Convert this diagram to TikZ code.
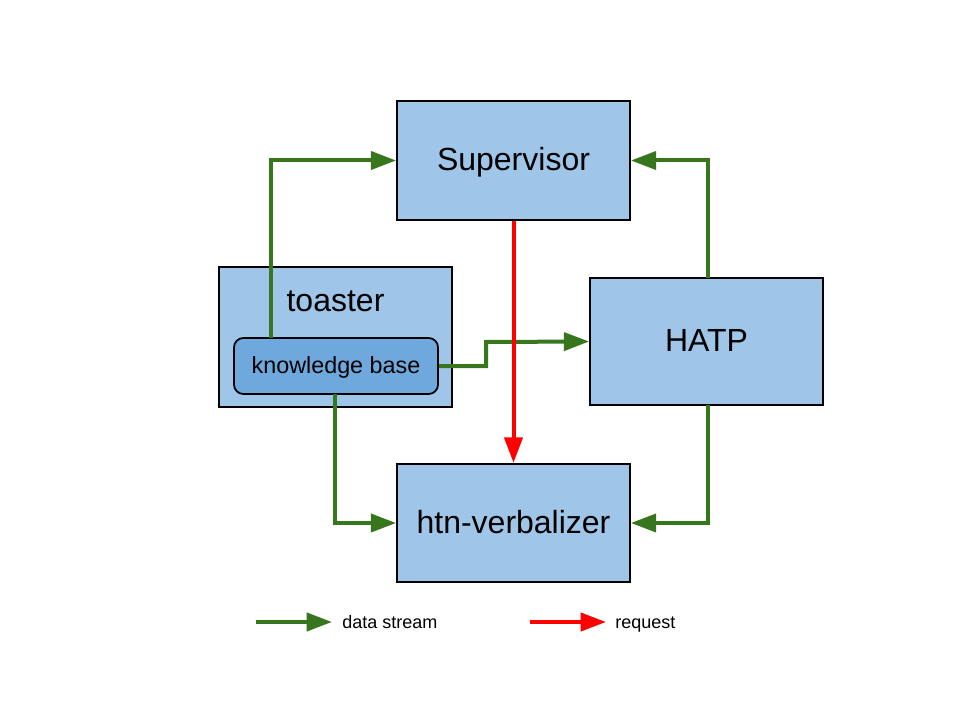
\documentclass[tikz,border=0pt]{standalone}
\usepackage{fontspec}
\setmainfont{Liberation Sans}
\usetikzlibrary{arrows.meta}
\definecolor{boxblue}{HTML}{9FC5E8}
\definecolor{kbblue}{HTML}{6FA8DC}
\definecolor{dgreen}{HTML}{38761D}
\tikzset{
  block/.style={draw=black, line width=1.3pt, fill=boxblue, minimum width=174.75pt, minimum height=89pt, inner sep=0pt, text height=18pt, text depth=3pt, font=\fontsize{24}{28}\selectfont},
  kbox/.style={draw=black, line width=1.3pt, fill=kbblue, rounded corners=7pt, minimum width=153pt, minimum height=42pt, inner sep=0pt, text height=13pt, text depth=2pt, font=\fontsize{17.5}{20}\selectfont},
  data/.style={draw=dgreen, line width=3pt, -{Triangle[length=19pt,width=13.5pt]}},
  req/.style={draw=red, line width=3pt, -{Triangle[length=19pt,width=13.5pt]}},
  legend/.style={font=\fontsize{13.5}{16}\selectfont, anchor=base west, inner sep=0pt},
}
\begin{document}
\begin{tikzpicture}[x=0.75pt,y=-0.75pt]
\useasboundingbox (0,0) rectangle (960,720);
\node[block] (sup) at (513.5,160.5) {Supervisor};
\node[block, minimum height=105pt] (toaster) at (335.5,337) {};
\node[font=\fontsize{24}{28}\selectfont, anchor=base] (tlabel) at (335.5,311) {toaster};
\node[kbox] (kb) at (336,366) {knowledge base};
\node[block, minimum height=95pt] (hatp) at (706.5,341.5) {HATP};
\node[block] (htn) at (513.5,523) {htn-verbalizer};
\coordinate (k1) at (271,338);
\coordinate (k2) at (335,394);
\draw[data] (k1) |- (sup.west);
\draw[data] (kb.east) -- (486,366) -- (486,342) -- (hatp.west);
\draw[data] (k2) |- (htn.west);
\coordinate (h1) at (708,278);
\coordinate (h2) at (708,405);
\draw[data] (h1) |- (sup.east);
\draw[data] (h2) |- (htn.east);
\draw[req] (sup.south) -- (htn.north);
% legend
\coordinate (l1) at (256,622);
\coordinate (l2) at (332,622);
\draw[data] (l1) -- (l2);
\node[legend] (ld) at (342,628) {data stream};
\coordinate (r1) at (530,622);
\coordinate (r2) at (606,622);
\draw[req] (r1) -- (r2);
\node[legend] (lr) at (615,628) {request};
\end{tikzpicture}
\end{document}
